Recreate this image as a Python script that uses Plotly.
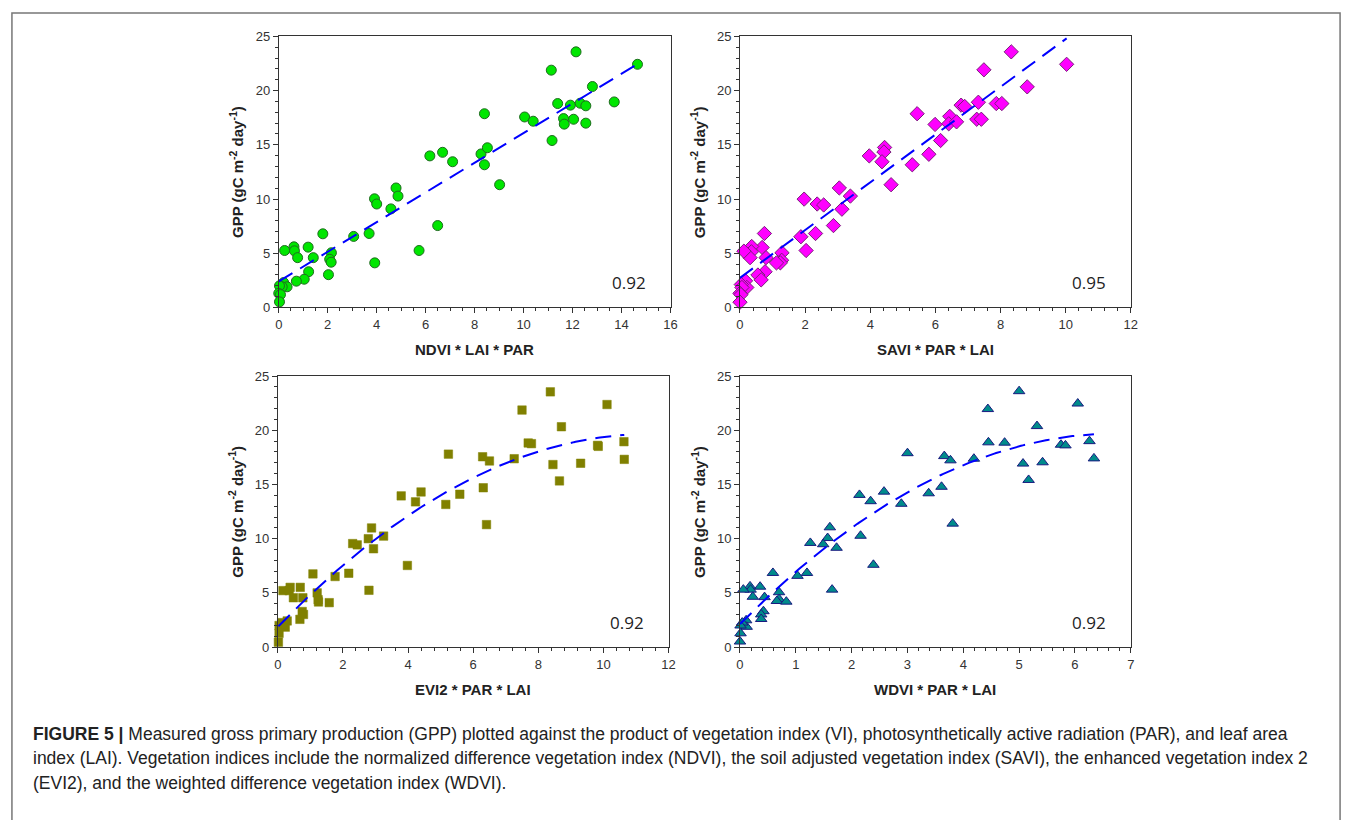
import numpy as np
import plotly.graph_objects as go

W, H = 1356, 820

# ---------------- data ----------------
ndvi_x = [14.65, 12.14, 11.13, 12.81, 13.70, 11.39, 11.91, 12.31, 12.54, 11.63, 11.66, 12.04, 12.54,
          10.04, 10.39, 8.40, 11.16, 8.26, 8.52, 8.40, 6.17, 6.69, 7.10, 9.02, 4.79, 4.87, 4.58,
          3.91, 4.00, 3.92, 3.69, 3.06, 6.49, 5.73, 1.80, 2.15, 2.08, 2.14, 2.03, 1.20, 1.41, 1.22,
          1.04, 0.62, 0.64, 0.77, 0.72, 0.24, 0.20, 0.34, 0.14, 0.03, 0.00, 0.07, 0.03]
ndvi_y = [22.43, 23.58, 21.89, 20.38, 18.96, 18.81, 18.66, 18.84, 18.60, 17.42, 16.91, 17.36, 17.00,
          17.57, 17.18, 17.87, 15.40, 14.16, 14.73, 13.16, 13.98, 14.31, 13.44, 11.32, 11.02, 10.27, 9.09,
          10.02, 9.54, 4.11, 6.82, 6.55, 7.55, 5.25, 6.79, 5.04, 4.44, 4.17, 3.02, 5.56, 4.59, 3.29,
          2.60, 5.59, 5.22, 4.59, 2.42, 5.25, 2.29, 1.90, 1.90, 1.99, 1.30, 1.18, 0.51]

savi_x = [10.03, 8.33, 7.49, 8.82, 6.79, 6.90, 7.32, 7.87, 8.04, 7.27, 7.41, 6.44, 6.41, 6.65, 5.44,
          5.99, 6.16, 5.80, 5.29, 3.97, 4.44, 4.42, 4.36, 4.64, 3.05, 3.39, 3.13, 1.97, 2.37, 2.57,
          2.87, 1.87, 2.32, 2.03, 0.75, 0.68, 1.29, 1.28, 1.24, 1.12, 0.80, 0.77, 0.55, 0.65, 0.36,
          0.35, 0.31, 0.12, 0.17, 0.21, 0.04, 0.06, 0.00, 0.03, 0.00]
savi_y = [22.43, 23.58, 21.92, 20.35, 18.66, 18.54, 18.93, 18.81, 18.81, 17.36, 17.36, 17.63, 16.94,
          17.12, 17.87, 16.88, 15.40, 14.13, 13.16, 13.98, 14.76, 14.34, 13.44, 11.32, 11.02, 10.27,
          9.06, 9.99, 9.54, 9.45, 7.55, 6.52, 6.82, 5.25, 6.82, 5.53, 5.04, 4.35, 4.11, 4.11, 4.59,
          3.29, 2.99, 2.54, 5.62, 5.13, 4.59, 5.19, 2.45, 1.84, 2.11, 1.84, 1.30, 1.18, 0.48]

evi2_x = [8.37, 10.11, 7.50, 8.71, 7.69, 7.79, 9.82, 9.84, 10.63, 10.64, 7.26, 6.29, 6.50, 5.24, 8.45,
          9.30, 8.65, 6.31, 5.59, 5.16, 3.79, 4.40, 4.23, 6.41, 2.88, 3.25, 2.78, 2.94, 2.30, 2.44,
          3.98, 2.18, 1.76, 2.80, 1.08, 1.21, 1.24, 1.25, 1.58, 0.69, 0.77, 0.75, 0.79, 0.68, 0.38,
          0.35, 0.48, 0.16, 0.29, 0.23, 0.12, 0.04, 0.04, 0.02]
evi2_y = [23.55, 22.38, 21.87, 20.33, 18.83, 18.77, 18.61, 18.52, 18.95, 17.32, 17.38, 17.56, 17.17,
          17.80, 16.84, 16.96, 15.33, 14.70, 14.10, 13.16, 13.95, 14.31, 13.40, 11.30, 10.99, 10.24,
          10.00, 9.07, 9.55, 9.43, 7.53, 6.81, 6.51, 5.24, 6.75, 5.00, 4.37, 4.16, 4.10, 5.51, 4.55,
          3.28, 3.01, 2.56, 5.51, 5.21, 4.55, 5.21, 2.41, 1.84, 2.26, 1.99, 1.27, 0.45]

wdvi_x = [5.00, 6.05, 4.44, 5.32, 4.45, 4.74, 5.75, 5.83, 6.26, 6.34, 4.19, 3.66, 3.77, 3.00, 5.07,
          5.42, 5.17, 3.61, 3.38, 2.89, 2.14, 2.58, 2.34, 3.81, 1.61, 2.16, 1.57, 1.73, 1.26, 1.49,
          2.39, 1.20, 1.03, 1.65, 0.59, 0.70, 0.70, 0.66, 0.83, 0.36, 0.44, 0.42, 0.38, 0.38, 0.18,
          0.19, 0.23, 0.06, 0.11, 0.12, 0.04, 0.01, 0.01, 0.00]
wdvi_y = [23.61, 22.47, 21.96, 20.39, 18.89, 18.86, 18.67, 18.61, 19.00, 17.41, 17.38, 17.62, 17.23,
          17.89, 16.93, 17.05, 15.42, 14.79, 14.19, 13.22, 14.04, 14.34, 13.46, 11.39, 11.05, 10.27,
          10.06, 9.16, 9.61, 9.49, 7.59, 6.84, 6.57, 5.30, 6.84, 5.06, 4.43, 4.25, 4.19, 5.57, 4.61,
          3.31, 3.01, 2.59, 5.60, 5.30, 4.64, 5.30, 2.47, 1.87, 2.26, 1.99, 1.27, 0.51]

r_values = ["0.92", "0.95", "0.92", "0.92"]
x_titles = ["NDVI * LAI * PAR", "SAVI * PAR * LAI", "EVI2 * PAR * LAI", "WDVI * PAR * LAI"]
y_title = "GPP (gC m<sup>-2</sup> day<sup>-1</sup>)"
x_ranges = [[0, 16], [0, 12], [0, 12], [0, 7]]
x_dticks = [2, 2, 2, 1]
x_minor = [0.5, 0.4, 0.4, 0.2]
fit_degree = [1, 1, 2, 2]

caption_lines = [
    "<b>FIGURE 5 |</b> Measured gross primary production (GPP) plotted against the product of vegetation index (VI), photosynthetically active radiation (PAR), and leaf area",
    "index (LAI). Vegetation indices include the normalized difference vegetation index (NDVI), the soil adjusted vegetation index (SAVI), the enhanced vegetation index 2",
    "(EVI2), and the weighted difference vegetation index (WDVI).",
]

# ---------------- layout geometry (pixels) ----------------
panels_px = [  # x0, x1, y_top, y_bottom
    (277, 672, 30, 306),
    (742, 1136, 30, 306),
    (276, 670, 376, 652),
    (742, 1136, 376, 652),
]
xtitle_y_px = [349, 349, 695, 695]
markers = [
    dict(symbol="circle", size=10, color="#00e600", line=dict(color="#1f6b1f", width=1)),
    dict(symbol="diamond", size=11, color="#ff00ff", line=dict(color="#7a1f7a", width=1)),
    dict(symbol="square", size=8.5, color="#808000", line=dict(color="#808000", width=0.5)),
    dict(symbol="triangle-up", size=10, color="#008b8b", line=dict(color="#1a1a80", width=1)),
]
datasets = [(ndvi_x, ndvi_y), (savi_x, savi_y), (evi2_x, evi2_y), (wdvi_x, wdvi_y)]

fig = go.Figure()
annotations = []
sans = "Liberation Sans, Arial, sans-serif"
axis_font = dict(family=sans, size=13, color="#333333")

for i, ((xs, ys), (x0, x1, yt, yb)) in enumerate(zip(datasets, panels_px)):
    n = "" if i == 0 else str(i + 1)
    xa, ya = "x" + n, "y" + n
    # fitted curve from data
    xs_a, ys_a = np.array(xs), np.array(ys)
    coef = np.polyfit(xs_a, ys_a, fit_degree[i])
    xx = np.linspace(0 if fit_degree[i] == 1 else xs_a.min(), xs_a.max(), 200)
    yy = np.polyval(coef, xx)
    fig.add_trace(go.Scatter(x=xs, y=ys, mode="markers", marker=markers[i], xaxis=xa, yaxis=ya,
                             cliponaxis=False, showlegend=False))
    fig.add_trace(go.Scatter(x=xx, y=yy, mode="lines", xaxis=xa, yaxis=ya, showlegend=False,
                             line=dict(color="#0000ff", width=2, dash="16px,9px")))
    common = dict(showline=True, linecolor="#333333", linewidth=1, mirror=True, ticks="outside",
                  ticklen=5, tickcolor="#333333", showgrid=False, zeroline=False, tickfont=axis_font)
    fig.update_layout(**{
        ("xaxis" + n): dict(domain=[x0 / W, x1 / W], anchor=ya, range=x_ranges[i], dtick=x_dticks[i],
                            minor=dict(dtick=x_minor[i], ticks="outside", ticklen=3, tickcolor="#333333"),
                            **common),
        ("yaxis" + n): dict(domain=[1 - yb / H, 1 - yt / H], anchor=xa, range=[0, 25], dtick=5,
                            minor=dict(dtick=1, ticks="outside", ticklen=3, tickcolor="#333333"),
                            **common),
    })
    # axis titles
    annotations.append(dict(text="<b>" + x_titles[i] + "</b>", x=(x0 + x1) / 2 / W, y=1 - xtitle_y_px[i] / H,
                            xref="paper", yref="paper", showarrow=False, xanchor="center", yanchor="middle",
                            font=dict(family=sans, size=15, color="#222")))
    annotations.append(dict(text="<b>" + y_title + "</b>", x=(x0 - 42) / W, y=1 - (yt + yb) / 2 / H,
                            xref="paper", yref="paper", showarrow=False, textangle=-90,
                            xanchor="center", yanchor="middle",
                            font=dict(family=sans, size=15, color="#222")))
    annotations.append(dict(text=r_values[i], x=(x1 - 42) / W, y=1 - (yb - 25) / H, xref="paper",
                            yref="paper", showarrow=False, xanchor="center", yanchor="middle",
                            font=dict(family="Open Sans, Carlito, sans-serif", size=17, color="#222")))

for j, line in enumerate(caption_lines):
    annotations.append(dict(text=line, x=27 / W, y=1 - (741 + j * 24.5) / H, xref="paper", yref="paper",
                            showarrow=False, xanchor="left", yanchor="middle", align="left",
                            font=dict(family=sans, size=17.5, color="#222")))

fig.update_layout(
    width=W, height=H, margin=dict(l=0, r=0, t=0, b=0),
    paper_bgcolor="white", plot_bgcolor="white",
    annotations=annotations,
    shapes=[dict(type="rect", xref="paper", yref="paper", x0=8 / W, x1=1347 / W, y0=-0.05, y1=1 - 6 / H,
                 line=dict(color="#777777", width=1.5), fillcolor="rgba(0,0,0,0)")],
)

fig.write_html("out.html")
